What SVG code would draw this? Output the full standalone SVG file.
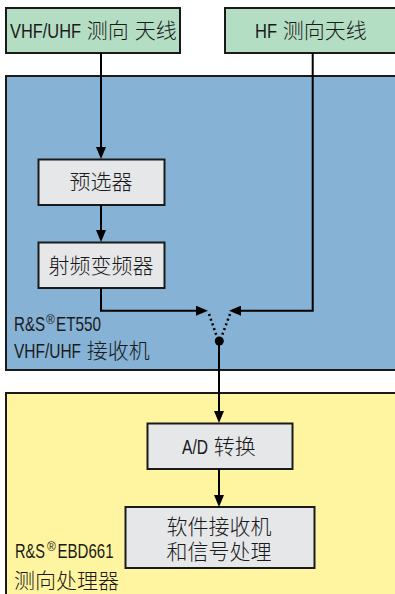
<svg xmlns="http://www.w3.org/2000/svg" width="395" height="594" viewBox="0 0 395 594">
<style>
.t{font-family:"Liberation Sans","Noto Sans CJK SC",sans-serif;font-size:21px;fill:#1a1a1a;font-weight:300}
.box{stroke:#1a1a1a;stroke-width:2}
.green{fill:#b4dec4}
.gray{fill:#e6e7e9}
.blue{fill:#85b2d5}
.yellow{fill:#fff5a0}
.c{fill:none;stroke:#000;stroke-width:2}
.dot{fill:none;stroke:#000;stroke-width:2.5;stroke-dasharray:2 3}
.sup{font-size:12px}
</style>
<defs>
<marker id="ah" viewBox="0 0 12 10" refX="6" refY="5" markerWidth="12" markerHeight="10" markerUnits="userSpaceOnUse" orient="auto">
<path d="M0,0 L12,5 L0,10 Z" fill="#000"/>
</marker>
</defs>
<rect width="395" height="594" fill="#fff"/>
<g id="et550">
<rect class="box blue" x="6" y="76" width="395" height="294"/>
<text class="t" x="14" y="331"><tspan textLength="31" lengthAdjust="spacingAndGlyphs">R&amp;S</tspan><tspan class="sup" x="46" dy="-7">®</tspan><tspan x="56" dy="7" textLength="45" lengthAdjust="spacingAndGlyphs">ET550</tspan><tspan x="14" dy="27" textLength="67" lengthAdjust="spacingAndGlyphs">VHF/UHF</tspan> 接收机</text>
</g>
<g id="ebd661">
<rect class="box yellow" x="6" y="393" width="395" height="210"/>
<text class="t" x="15" y="558"><tspan textLength="30" lengthAdjust="spacingAndGlyphs">R&amp;S</tspan><tspan class="sup" x="47" dy="-7">®</tspan><tspan x="57.5" dy="7" textLength="56" lengthAdjust="spacingAndGlyphs">EBD661</tspan><tspan x="14" dy="30">测向处理器</tspan></text>
</g>
<g id="vhf-antenna">
<rect class="box green" x="6" y="8" width="174" height="45"/>
<text class="t" x="10" y="38"><tspan textLength="71" lengthAdjust="spacingAndGlyphs">VHF/UHF</tspan> 测向 天线</text>
</g>
<g id="hf-antenna">
<rect class="box green" x="225" y="8" width="180" height="45"/>
<text class="t" x="255" y="37.5"><tspan textLength="22" lengthAdjust="spacingAndGlyphs">HF</tspan> 测向天线</text>
</g>
<g id="preselector">
<rect class="box gray" x="38.5" y="159.5" width="126" height="45.5"/>
<text class="t" x="101" y="189" text-anchor="middle">预选器</text>
</g>
<g id="rf-converter">
<rect class="box gray" x="38.5" y="242.5" width="126" height="45.5"/>
<text class="t" x="101" y="273" text-anchor="middle">射频变频器</text>
</g>
<g id="ad">
<rect class="box gray" x="147.5" y="423.5" width="145" height="45.5"/>
<text class="t" x="182" y="453.5"><tspan textLength="26" lengthAdjust="spacingAndGlyphs">A/D</tspan> 转换</text>
</g>
<g id="sw-receiver">
<rect class="box gray" x="125.5" y="507" width="189" height="61"/>
<text class="t" x="219" y="533.5" text-anchor="middle">软件接收机<tspan x="219" dy="25">和信号处理</tspan></text>
</g>
<g id="connectors">
<path class="c" d="M101,53 V153" marker-end="url(#ah)"/>
<path class="c" d="M101,205 V236" marker-end="url(#ah)"/>
<path class="c" d="M101,288 V310.7 H202" marker-end="url(#ah)"/>
<path class="c" d="M312.7,53 V310.7 H235" marker-end="url(#ah)"/>
<path class="dot" d="M209,314 L217,337"/>
<path class="dot" d="M230,314 L221.5,337"/>
<circle cx="219.3" cy="341" r="4.5" fill="#000"/>
<path class="c" d="M219,341 V417" marker-end="url(#ah)"/>
<path class="c" d="M219,469 V501" marker-end="url(#ah)"/>
</g>
</svg>
